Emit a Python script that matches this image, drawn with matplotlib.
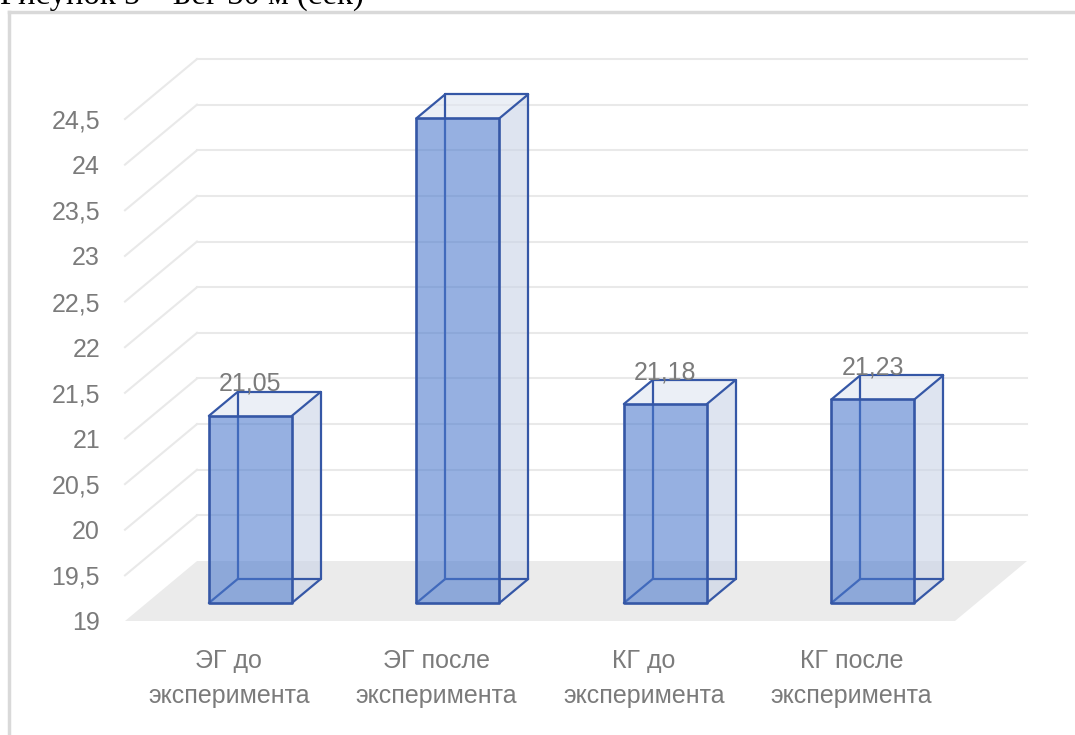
import numpy as np
import matplotlib.pyplot as plt
from matplotlib.patches import Polygon
from matplotlib.lines import Line2D

plt.rcParams['font.family'] = ['Liberation Sans', 'DejaVu Sans']

# данные
categories = ["ЭГ до\nэксперимента", "ЭГ после\nэксперимента",
              "КГ до\nэксперимента", "КГ после\nэксперимента"]
values = [21.05, 24.31, 21.18, 21.23]
y_ticks = np.arange(19, 24.51, 0.5)
title = "Рисунок 5 – Бег 30 м (сек)"

# 3d look: shift of the back wall in data units
DX = 0.347
DY = 0.657
base = 19.0

def proj(x, y, d):
    return (x + d * DX, y + d * DY)

fig = plt.figure(figsize=(10.75, 7.35), dpi=100)
W, H = 1075, 735
ax = fig.add_axes([125 / W, (H - 621) / H, 830 / W, 502 / H])
ax.set_xlim(0, len(values))
ax.set_ylim(base, 24.5)
for s in ax.spines.values():
    s.set_visible(False)

grid_c = '#e9e9e9'
# back wall gridlines
for v in y_ticks[1:]:
    bx, by = proj(0, v, 1)
    ax.plot([0, bx], [v, by], color=grid_c, lw=1.5, zorder=1, clip_on=False)
    ex, ey = proj(len(values), v, 1)
    ax.plot([bx, ex], [by, ey], color=grid_c, lw=1.5, zorder=1, clip_on=False)

# floor
floor = [proj(0, base, 0), proj(len(values), base, 0),
         proj(len(values), base, 1), proj(0, base, 1)]
ax.add_patch(Polygon(floor, closed=True, facecolor='#ebebeb', edgecolor='none',
                     zorder=2, clip_on=False))

edge_c = '#3557a6'
d0, d1 = 0.3, 0.7
for i, v in enumerate(values):
    x0, x1 = i + 0.3, i + 0.7
    side = [proj(x1, base, d0), proj(x1, base, d1), proj(x1, v, d1), proj(x1, v, d0)]
    top = [proj(x0, v, d0), proj(x1, v, d0), proj(x1, v, d1), proj(x0, v, d1)]
    front = [proj(x0, base, d0), proj(x1, base, d0), proj(x1, v, d0), proj(x0, v, d0)]
    ax.add_patch(Polygon(side, closed=True, facecolor='#c9d3e6', alpha=0.6,
                         edgecolor='none', zorder=3, clip_on=False))
    ax.add_patch(Polygon(top, closed=True, facecolor='#dfe5f0', alpha=0.6,
                         edgecolor='none', zorder=3, clip_on=False))
    # back / depth edges
    edges = [
        (proj(x0, base, d1), proj(x0, v, d1)),
        (proj(x1, base, d1), proj(x1, v, d1)),
        (proj(x0, base, d1), proj(x1, base, d1)),
        (proj(x0, v, d1), proj(x1, v, d1)),
        (proj(x0, base, d0), proj(x0, base, d1)),
        (proj(x1, base, d0), proj(x1, base, d1)),
        (proj(x0, v, d0), proj(x0, v, d1)),
        (proj(x1, v, d0), proj(x1, v, d1)),
    ]
    for a, b in edges:
        ax.plot([a[0], b[0]], [a[1], b[1]], color=edge_c, lw=1.6, zorder=4,
                clip_on=False, solid_capstyle='round')
    ax.add_patch(Polygon(front, closed=True, facecolor='#4a78cc', alpha=0.58,
                         edgecolor='none', zorder=5, clip_on=False))
    ax.add_patch(Polygon(front, closed=True, facecolor='none', edgecolor=edge_c,
                         lw=1.9, zorder=6, clip_on=False, joinstyle='round'))
    lx, ly = proj(i + 0.5, v, d0)
    ax.annotate(f"{v:.2f}".replace('.', ','), (lx, ly), xytext=(0, 23),
                textcoords='offset points', ha='center', va='center',
                fontsize=18, color='#7b7b7b', zorder=7)

ax.set_yticks(y_ticks)
ax.set_yticklabels([f"{t:g}".replace('.', ',') for t in y_ticks])
ax.set_xticks(np.arange(len(values)) + 0.5)
ax.set_xticklabels(categories, linespacing=1.6)
ax.tick_params(axis='y', length=0, pad=18, labelsize=18, labelcolor='#7b7b7b')
ax.tick_params(axis='x', length=0, pad=20, labelsize=18, labelcolor='#7b7b7b')

# chart frame and caption
fig.add_artist(Line2D([8.5 / W, 8.5 / W], [0, 1 - 12 / H], color='#d9d9d9', lw=2.5))
fig.add_artist(Line2D([8.5 / W, 1], [1 - 12 / H, 1 - 12 / H], color='#d9d9d9', lw=2.5))
fig.text(0, 1 - 4 / H, title, fontsize=23.5, family=['Liberation Serif', 'DejaVu Serif'],
         color='black', ha='left', va='baseline')

fig.savefig('out.png', dpi=100)
